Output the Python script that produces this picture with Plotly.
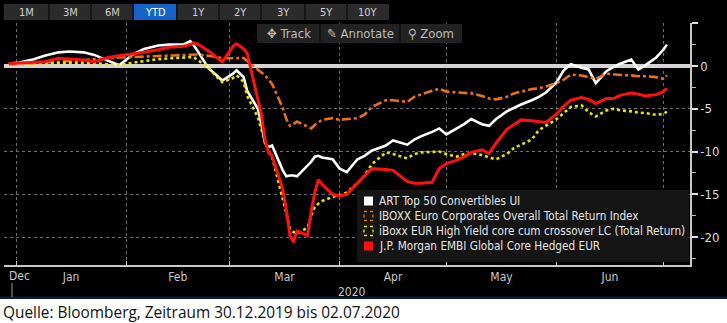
import pandas as pd
import plotly.graph_objects as go

# ---------------------------------------------------------------- data
dates = [
    "2019-12-30", "2020-01-02", "2020-01-06", "2020-01-09", "2020-01-13", "2020-01-16",
    "2020-01-20", "2020-01-23", "2020-01-27", "2020-01-30",
    "2020-02-03", "2020-02-06", "2020-02-10", "2020-02-13", "2020-02-17", "2020-02-19",
    "2020-02-20", "2020-02-21", "2020-02-24", "2020-02-26", "2020-02-28",
    "2020-03-02", "2020-03-03", "2020-03-04", "2020-03-05", "2020-03-06", "2020-03-09",
    "2020-03-10", "2020-03-11", "2020-03-12", "2020-03-13", "2020-03-16", "2020-03-17",
    "2020-03-18", "2020-03-19", "2020-03-20", "2020-03-23", "2020-03-24", "2020-03-25",
    "2020-03-26", "2020-03-27", "2020-03-30",
    "2020-04-01", "2020-04-03", "2020-04-06", "2020-04-08", "2020-04-10", "2020-04-14",
    "2020-04-16", "2020-04-20", "2020-04-22", "2020-04-24", "2020-04-27", "2020-04-29",
    "2020-05-01", "2020-05-04", "2020-05-06", "2020-05-08", "2020-05-11", "2020-05-13",
    "2020-05-15", "2020-05-18", "2020-05-20", "2020-05-22", "2020-05-25", "2020-05-27",
    "2020-05-29",
    "2020-06-01", "2020-06-03", "2020-06-05", "2020-06-08", "2020-06-10", "2020-06-12",
    "2020-06-15", "2020-06-17", "2020-06-19", "2020-06-22", "2020-06-24", "2020-06-26",
    "2020-06-29",
    "2020-07-01", "2020-07-02",
]

# total return since 30.12.2019 in percent
art_top50 = [
    0.3, 0.4, 0.8, 1.2, 1.6, 1.7, 1.6, 1.3, 0.6, 0.1,
    1.4, 2.0, 2.4, 2.5, 2.5, 2.9, 2.4, 1.8, -0.2, -0.9, -1.7,
    -0.9, -0.5, -0.9, -1.3, -2.9, -5.0, -6.8, -9.0, -9.5, -9.3, -12.2, -12.9,
    -12.8, -12.8, -12.9, -11.7, -11.2, -10.6, -10.5, -10.7, -10.9,
    -12.0, -12.4, -10.9, -10.5, -9.9, -9.3, -8.7, -9.2, -8.6, -8.2, -7.7, -7.3,
    -8.0, -7.3, -6.8, -6.2, -6.8, -7.0, -6.2, -5.3, -4.9, -4.5, -4.0, -3.6, -3.1,
    -1.9, -0.5, 0.2, -0.2, -0.4, -2.0, -0.6, -0.1, 0.3, 0.75, -0.4, 0.1, 1.0,
    1.9, 2.5,
]

iboxx_corp = [
    0.15, 0.25, 0.3, 0.4, 0.5, 0.6, 0.7, 0.8, 0.9, 1.0,
    1.05, 1.1, 1.2, 1.3, 1.3, 1.35, 1.4, 1.35, 1.2, 1.1, 0.9,
    0.85, 0.9, 1.0, 0.95, 0.6, -0.4, -0.7, -1.1, -1.6, -2.1, -4.9, -6.2,
    -7.0, -6.8, -6.5, -7.1, -7.3, -6.9, -6.6, -6.3, -6.1,
    -6.3, -6.2, -6.1, -5.7, -4.8, -4.0, -4.0, -4.2, -3.6, -3.3, -2.9, -2.65,
    -3.0, -3.1, -3.2, -3.2, -3.5, -3.8, -3.9, -3.6, -3.2, -3.0, -2.7, -2.6, -2.4,
    -2.0, -1.6, -1.0, -1.1, -1.3, -1.5, -0.9, -1.0, -1.05, -1.1, -1.2, -1.2, -1.3,
    -1.5, -1.1,
]

iboxx_hy = [
    0.2, 0.3, 0.3, 0.3, 0.35, 0.4, 0.4, 0.35, 0.2, 0.1,
    0.4, 0.6, 0.8, 0.9, 1.0, 1.1, 1.05, 0.7, -0.1, -1.1, -1.9,
    -1.4, -1.1, -1.4, -1.9, -3.5, -6.0, -7.4, -8.8, -10.1, -10.6, -15.3, -17.2,
    -19.0, -19.4, -19.6, -18.9, -17.5, -16.5, -16.1, -15.8, -15.3,
    -15.1, -14.8, -13.7, -12.8, -11.5, -10.1, -10.3, -10.8, -10.3, -10.1, -10.0, -10.0,
    -10.3, -10.6, -10.3, -10.2, -10.4, -10.7, -10.9, -10.3, -9.6, -9.2, -8.6, -7.5, -7.0,
    -6.2, -5.5, -4.8, -4.6, -5.4, -5.9, -5.2, -5.0, -5.2, -5.3, -5.45, -5.5, -5.7,
    -5.6, -5.35,
]

jpm_embi = [
    0.3, 0.35, 0.4, 0.5, 0.9, 0.8, 0.7, 0.5, 1.0, 1.2,
    1.4, 1.6, 1.9, 2.2, 2.3, 2.5, 2.7, 2.6, 1.8, 1.1, 0.5,
    2.3, 2.6, 2.3, 2.0, 1.5, -4.0, -5.7, -8.6, -10.1, -10.5, -14.4, -16.8,
    -19.8, -20.6, -19.3, -19.8, -17.0, -14.8, -13.3, -13.8, -15.0,
    -15.2, -15.0, -13.7, -12.8, -12.0, -12.1, -12.2, -13.5, -13.7, -13.7, -13.6, -12.0,
    -11.4, -11.0, -10.6, -10.1, -9.8, -10.2, -9.0, -7.4, -6.8, -6.3, -6.4, -6.5, -6.6,
    -5.6, -4.7, -4.0, -3.7, -3.9, -4.4, -3.8, -3.8, -3.4, -3.15, -3.3, -3.5, -3.35,
    -3.0, -2.6,
]

series_names = [
    "ART Top 50 Convertibles UI",
    "IBOXX Euro Corporates Overall Total Return Index",
    "iBoxx EUR High Yield core cum crossover LC (Total Return)",
    "J.P. Morgan EMBI Global Core Hedged EUR",
]
series_values = [art_top50, iboxx_corp, iboxx_hy, jpm_embi]
series_colors = ["#ffffff", "#e8721c", "#e6e600", "#ff1010"]
series_dash = ["solid", "dashdot", "dot", "solid"]
series_width = [2.6, 2.6, 2.6, 3.0]

y_tickvals = [-20, -15, -10, -5, 0, 5]
y_ticktext = ["-20", "-15", "-10", "-5", "0", ""]
range_buttons = ["1M", "3M", "6M", "YTD", "1Y", "2Y", "3Y", "5Y", "10Y"]
caption = "Quelle: Bloomberg, Zeitraum 30.12.2019 bis 02.07.2020"

# ---------------------------------------------------------------- geometry
W, H = 727, 323
ML, MR, MT, MB = 4, 37, 23, 58
PW, PH = W - ML - MR, H - MT - MB


def px(x):
    return (x - ML) / PW


def py(y):
    return (H - MB - y) / PH


UI_FONT = "Liberation Sans Narrow, DejaVu Sans Condensed, Roboto, sans-serif"
GRID = "#6e6e6e"
AXIS = "#c8c8c8"

x_start = pd.Timestamp("2019-12-28 15:00")
x_end = pd.Timestamp("2020-07-08 12:00")

fig = go.Figure()
for name, vals, col, dash, lw in zip(series_names, series_values, series_colors,
                                     series_dash, series_width):
    fig.add_trace(go.Scatter(
        x=pd.to_datetime(dates), y=vals, name=name, mode="lines",
        line=dict(color=col, width=lw, dash=dash),
        showlegend=False, hoverinfo="skip",
    ))

shapes = []
annotations = []

# white footer strip for the source line
shapes.append(dict(type="rect", xref="paper", yref="paper", layer="below",
                   x0=px(0), x1=px(W), y0=py(299), y1=py(H + 2),
                   fillcolor="white", line=dict(width=0)))
# thin navy strip under the chart panel
shapes.append(dict(type="rect", xref="paper", yref="paper", layer="below",
                   x0=px(0), x1=px(W), y0=py(299), y1=py(296.5),
                   fillcolor="#0c1c3c", line=dict(width=0)))
# year separator below the time axis
shapes.append(dict(type="line", xref="paper", yref="paper",
                   x0=px(12), x1=px(12), y0=py(283), y1=py(297),
                   line=dict(color="#9a9a9a", width=1)))

# range selector bar
shapes.append(dict(type="rect", xref="paper", yref="paper", layer="above",
                   x0=px(4), x1=px(389), y0=py(4), y1=py(20),
                   fillcolor="#2b2b2b", line=dict(width=0)))
btn_edges = [4, 49, 91, 133, 177, 219, 261, 305, 347, 389]
for i, lab in enumerate(range_buttons):
    x0, x1 = btn_edges[i], btn_edges[i + 1]
    if lab == "YTD":
        shapes.append(dict(type="rect", xref="paper", yref="paper", layer="above",
                           x0=px(x0 + 1), x1=px(x1 - 1), y0=py(4), y1=py(20),
                           fillcolor="#1663c7", line=dict(width=0)))
    if i > 0:
        shapes.append(dict(type="line", xref="paper", yref="paper", layer="above",
                           x0=px(x0), x1=px(x0), y0=py(4), y1=py(20),
                           line=dict(color="#111111", width=1.5)))
    annotations.append(dict(xref="paper", yref="paper", x=px((x0 + x1) / 2), y=py(12),
                            text=lab, showarrow=False, xanchor="center", yanchor="middle",
                            font=dict(family=UI_FONT, size=11,
                                      color="#ffffff" if lab == "YTD" else "#d0d0d0")))

# chart toolbar
shapes.append(dict(type="rect", xref="paper", yref="paper", layer="above",
                   x0=px(257), x1=px(462), y0=py(24), y1=py(43),
                   fillcolor="#222222", line=dict(width=0)))
for xs in (320, 400):
    shapes.append(dict(type="line", xref="paper", yref="paper", layer="above",
                       x0=px(xs), x1=px(xs), y0=py(24), y1=py(43),
                       line=dict(color="#0e0e0e", width=1.5)))
for lab, xc in (("✥ Track", 289), ("✎ Annotate", 360), ("⚲ Zoom", 431)):
    annotations.append(dict(xref="paper", yref="paper", x=px(xc), y=py(33.5),
                            text=lab, showarrow=False, xanchor="center", yanchor="middle",
                            font=dict(family=UI_FONT, size=13, color="#bdbdbd")))

# legend panel
shapes.append(dict(type="rect", xref="paper", yref="paper", layer="above",
                   x0=px(357), x1=px(689), y0=py(190), y1=py(262),
                   fillcolor="#151515", line=dict(width=0)))
row_y = [201, 216, 231, 246]
for i, name in enumerate(series_names):
    yc = row_y[i]
    filled = series_dash[i] == "solid"
    shapes.append(dict(type="rect", xref="paper", yref="paper", layer="above",
                       x0=px(364), x1=px(373), y0=py(yc - 4.5), y1=py(yc + 4.5),
                       fillcolor=series_colors[i] if filled else "rgba(0,0,0,0)",
                       line=dict(color=series_colors[i], width=0 if filled else 1.3,
                                 dash="solid" if filled else "dot")))
    annotations.append(dict(xref="paper", yref="paper", x=px(377), y=py(yc),
                            text=name, showarrow=False, xanchor="left", yanchor="middle",
                            font=dict(family=UI_FONT, size=11.7, color="#e6e6e6")))

# time axis extras
annotations.append(dict(xref="paper", yref="paper", x=px(7), y=py(275.5), text="Dec",
                        showarrow=False, xanchor="left", yanchor="middle",
                        font=dict(family=UI_FONT, size=12, color=AXIS)))
annotations.append(dict(xref="paper", yref="paper", x=px(352), y=py(292), text="2020",
                        showarrow=False, xanchor="center", yanchor="middle",
                        font=dict(family=UI_FONT, size=12, color=AXIS)))

# source line
annotations.append(dict(xref="paper", yref="paper", x=px(1), y=py(312), text=caption,
                        showarrow=False, xanchor="left", yanchor="middle",
                        font=dict(family="Open Sans, sans-serif", size=15.4, color="#111111")))

fig.update_layout(
    width=W, height=H,
    margin=dict(l=ML, r=MR, t=MT, b=MB, pad=0),
    paper_bgcolor="black", plot_bgcolor="black",
    showlegend=False,
    shapes=shapes, annotations=annotations,
    xaxis=dict(
        range=[x_start, x_end], type="date",
        dtick="M1", tick0="2020-01-01", tickformat="%b", ticklabelmode="period",
        showgrid=True, gridcolor=GRID, griddash="dot", gridwidth=1,
        ticks="inside", ticklen=4, tickcolor=AXIS, tickwidth=1,
        showline=True, linecolor=AXIS, linewidth=1.5,
        tickfont=dict(family=UI_FONT, size=12, color=AXIS),
        zeroline=False, fixedrange=True,
    ),
    yaxis=dict(
        range=[-23.27, 5.03], side="right",
        tickvals=y_tickvals, ticktext=y_ticktext,
        showgrid=True, gridcolor=GRID, griddash="dot", gridwidth=1,
        ticks="outside", ticklen=6, tickwidth=2, tickcolor="#e0e0e0",
        minor=dict(dtick=2.5, tick0=0, ticks="outside", ticklen=4,
                   tickcolor="#bbbbbb", tickwidth=1, showgrid=False),
        showline=True, linecolor=AXIS, linewidth=1.5,
        zeroline=True, zerolinecolor="#d4d4d4", zerolinewidth=3.5,
        tickfont=dict(family=UI_FONT, size=13, color="#dcdcdc"),
        fixedrange=True,
    ),
)

fig.write_html("out.html")
